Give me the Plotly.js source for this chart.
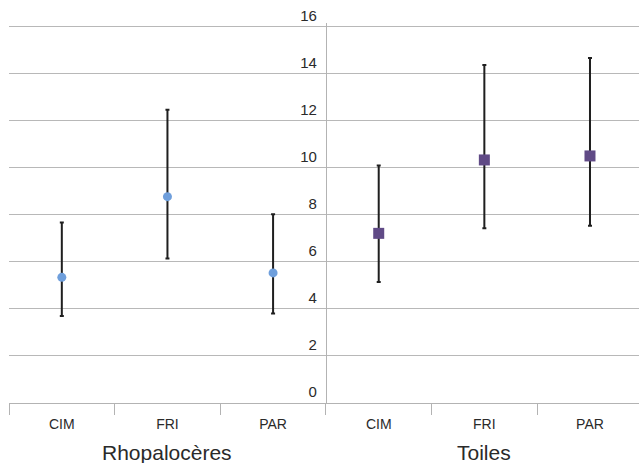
<!DOCTYPE html>
<html>
<head>
<meta charset="utf-8">
<script src="https://cdn.plot.ly/plotly-3.0.1.min.js"></script>
<style>html,body{margin:0;padding:0;background:#fff;overflow:hidden}#chart{width:639px;height:463px}</style>
</head>
<body>
<div id="chart"></div>
<script>
const groups = ['Rhopalocères', 'Toiles'];
const categories = ['CIM', 'FRI', 'PAR'];
const rhopaloceresMean = [5.34, 8.77, 5.53];
const rhopaloceresUpper = [7.67, 12.46, 8.02];
const rhopaloceresLower = [3.70, 6.14, 3.80];
const toilesMean = [7.21, 10.33, 10.50];
const toilesUpper = [10.09, 14.36, 14.66];
const toilesLower = [5.14, 7.43, 7.53];
const yTicks = [0, 2, 4, 6, 8, 10, 12, 14, 16];

const rPos = [0, 1, 2];
const tPos = [3, 4, 5];

function errPlus(mean, up) { return mean.map((m, i) => up[i] - m); }
function errMinus(mean, lo) { return mean.map((m, i) => m - lo[i]); }

const errStyle = {type: 'data', symmetric: false, color: '#1f1f1f', thickness: 2, width: 2};

const traces = [
  {
    x: rPos, y: rhopaloceresMean, type: 'scatter', mode: 'markers', name: groups[0],
    marker: {symbol: 'circle', size: 9, color: '#6f9fdc', line: {width: 0}},
    error_y: Object.assign({array: errPlus(rhopaloceresMean, rhopaloceresUpper), arrayminus: errMinus(rhopaloceresMean, rhopaloceresLower)}, errStyle),
    cliponaxis: false
  },
  {
    x: tPos, y: toilesMean, type: 'scatter', mode: 'markers', name: groups[1],
    marker: {symbol: 'square', size: 11, color: '#604a86', line: {width: 0}},
    error_y: Object.assign({array: errPlus(toilesMean, toilesUpper), arrayminus: errMinus(toilesMean, toilesLower)}, errStyle),
    cliponaxis: false
  }
];

const font = 'Liberation Sans, Arial, sans-serif';

const layout = {
  width: 639, height: 463,
  margin: {l: 9, r: 0, t: 23, b: 60, pad: 0},
  paper_bgcolor: '#fff', plot_bgcolor: '#fff',
  showlegend: false,
  font: {family: font, color: '#2a2a2a', size: 14},
  xaxis: {
    range: [-0.5, 5.464],
    tickvals: rPos.concat(tPos),
    ticktext: categories.concat(categories),
    ticks: '',
    showgrid: false, zeroline: false,
    showline: true, linecolor: '#b3b3b3', linewidth: 1,
    ticklabelstandoff: 8,
    tickfont: {family: font, size: 14, color: '#2a2a2a'},
    minor: {tick0: -0.5, dtick: 1, ticks: 'outside', ticklen: 11, tickwidth: 1, tickcolor: '#b3b3b3', showgrid: false}
  },
  yaxis: {
    range: [0, 16.15],
    tickvals: yTicks,
    ticks: '',
    anchor: 'free', position: 3 / 5.964, side: 'left',
    showline: true, linecolor: '#b3b3b3', linewidth: 1,
    showgrid: true, gridcolor: '#b8b8b8', gridwidth: 1,
    zeroline: false,
    ticklabelshift: -11,
    ticklabelstandoff: 6,
    tickfont: {family: font, size: 15, color: '#2a2a2a'}
  },
  annotations: [
    {x: 1, y: -0.13, xref: 'x', yref: 'paper', text: groups[0], showarrow: false, xanchor: 'center', yanchor: 'middle', font: {family: font, size: 21, color: '#2a2a2a'}},
    {x: 4, y: -0.13, xref: 'x', yref: 'paper', text: groups[1], showarrow: false, xanchor: 'center', yanchor: 'middle', font: {family: font, size: 21, color: '#2a2a2a'}}
  ]
};

Plotly.newPlot('chart', traces, layout, {displayModeBar: false, staticPlot: true});
</script>
</body>
</html>
